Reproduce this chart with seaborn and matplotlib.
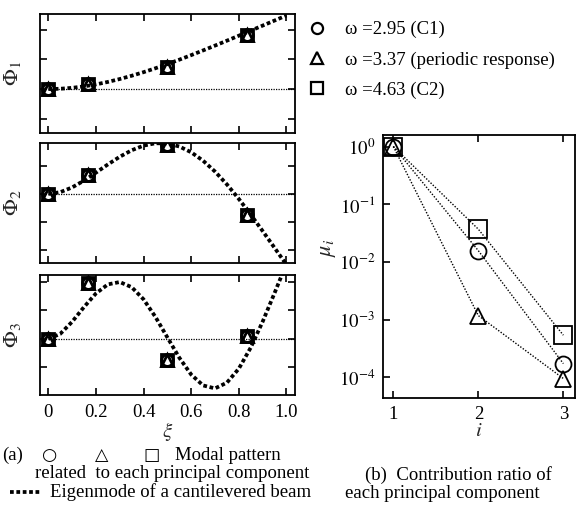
import numpy as np
import pandas as pd
import matplotlib
matplotlib.use("Agg")
import matplotlib.pyplot as plt
from matplotlib.lines import Line2D
import seaborn as sns

# ---------------- data ----------------
xi_curve = [0.00, 0.05, 0.10, 0.15, 0.20, 0.25, 0.30, 0.35, 0.40, 0.45, 0.50,
            0.55, 0.60, 0.65, 0.70, 0.75, 0.80, 0.85, 0.90, 0.95, 1.00]
mode1_curve = [0.000, 0.011, 0.042, 0.091, 0.158, 0.241, 0.339, 0.449, 0.570, 0.702, 0.842,
               0.990, 1.144, 1.303, 1.465, 1.631, 1.799, 1.969, 2.139, 2.309, 2.480]
mode2_curve = [0.000, 0.064, 0.235, 0.479, 0.765, 1.060, 1.336, 1.569, 1.736, 1.821, 1.813,
               1.705, 1.497, 1.194, 0.805, 0.343, -0.178, -0.742, -1.331, -1.933, -2.540]
mode3_curve = [0.000, 0.177, 0.602, 1.121, 1.596, 1.913, 1.996, 1.816, 1.388, 0.770, 0.052,
               -0.658, -1.251, -1.632, -1.736, -1.535, -1.044, -0.306, 0.604, 1.607, 2.640]

xi_pts = [0.0, 0.167, 0.5, 0.833]
phi1_pts = [0.0, 0.17, 0.76, 1.83]
phi2_pts = [0.0, 0.67, 1.77, -0.74]
phi3_pts = [0.0, 1.96, -0.73, 0.09]

i_vals = [1, 2, 3]
mu_c1 = [1.0, 0.0157, 1.74e-4]
mu_periodic = [1.0, 0.00118, 9.6e-5]
mu_c2 = [1.0, 0.037, 5.4e-4]

series_labels = ["\u03c9 =2.95 (C1)", "\u03c9 =3.37 (periodic response)", "\u03c9 =4.63 (C2)"]
series_markers = ["o", "^", "s"]
xi_ticks = [0.0, 0.2, 0.4, 0.6, 0.8, 1.0]
xi_ticklabels = ["0", "0.2", "0.4", "0.6", "0.8", "1.0"]
phi_labels = [r"$\Phi_1$", r"$\Phi_2$", r"$\Phi_3$"]

# ---------------- style ----------------
sns.set_theme(style="ticks")
SERIF = ["Liberation Serif", "DejaVu Serif"]
plt.rcParams["font.family"] = SERIF
plt.rcParams["mathtext.fontset"] = "stix"
plt.rcParams["axes.linewidth"] = 1.3
plt.rcParams["axes.edgecolor"] = "black"
plt.rcParams["text.color"] = "black"
plt.rcParams["xtick.color"] = "black"
plt.rcParams["ytick.color"] = "black"

W, H = 586, 505
fig = plt.figure(figsize=(W / 100, H / 100), dpi=100)


def fx(px):
    return px / W


def fy(py):
    return 1 - py / H


def box(x0, y0, x1, y1):
    return [fx(x0), fy(y1), fx(x1) - fx(x0), fy(y0) - fy(y1)]


left_boxes = [box(40, 14, 295, 133), box(40, 143, 295, 263), box(40, 274.5, 295, 394.5)]
ylims = [(-1.48, 2.53), (-2.48, 1.83), (-1.95, 2.26)]
yticks = [[-1, 0, 1, 2], [-2, -1, 0, 1], [-1, 0, 1, 2]]
curves = [mode1_curve, mode2_curve, mode3_curve]
pts = [phi1_pts, phi2_pts, phi3_pts]
XLIM = (-0.035, 1.036)

for k in range(3):
    ax = fig.add_axes(left_boxes[k])
    ax.axhline(0, xmin=(0 - XLIM[0]) / (XLIM[1] - XLIM[0]), color="black",
               lw=0.9, ls=(0, (1, 1)), zorder=1)
    sns.lineplot(x=xi_curve, y=curves[k], ax=ax, color="black", linewidth=2.7,
                 linestyle=(0, (1, 0.7)), dash_capstyle="butt", zorder=2)
    for m in series_markers:
        sns.lineplot(x=xi_pts, y=pts[k], ax=ax, linestyle="", marker=m,
                     markersize=8.5, markerfacecolor="none", markeredgecolor="black",
                     markeredgewidth=2.0, zorder=3)
    ax.set_xlim(*XLIM)
    ax.set_ylim(*ylims[k])
    ax.set_xticks(xi_ticks)
    ax.set_yticks(yticks[k])
    ax.set_yticklabels([])
    if k == 2:
        ax.set_xticklabels(xi_ticklabels)
        ax.set_xlabel(r"$\xi$", fontsize=15, labelpad=-1)
    else:
        ax.set_xticklabels([])
    ax.tick_params(direction="in", length=5, width=1.2, top=True, right=True,
                   labelsize=13.5, pad=7)
    ax.set_ylabel(phi_labels[k], fontsize=16)
    ax.yaxis.set_label_coords(-0.065, 0.5)

# ---------------- right panel ----------------
axr = fig.add_axes(box(383.3, 135, 575, 397.7))
for vals, m, ms in zip([mu_c1, mu_periodic, mu_c2], series_markers, [11.5, 11.5, 12.5]):
    sns.lineplot(x=i_vals, y=vals, ax=axr, color="black", linestyle=(0, (1, 1.2)),
                 linewidth=1.0, marker=m, markersize=ms, markerfacecolor="none",
                 markeredgecolor="black", markeredgewidth=1.3)
axr.set_yscale("log")
axr.set_xlim(0.882, 3.137)
axr.set_ylim(10 ** -4.35, 10 ** 0.2)
axr.set_xticks(i_vals)
axr.set_xticklabels([str(v) for v in i_vals])
axr.set_yticks([1, 1e-1, 1e-2, 1e-3, 1e-4])
axr.set_yticklabels([r"$10^{0}$", r"$10^{-1}$", r"$10^{-2}$", r"$10^{-3}$", r"$10^{-4}$"])
axr.minorticks_off()
axr.tick_params(direction="in", length=5, width=1.2, top=True, right=False,
                labelsize=13.5, pad=6)
axr.set_xlabel(r"$i$", fontsize=15, labelpad=-1)
axr.set_ylabel(r"$\mu_i$", fontsize=16)
axr.yaxis.set_label_coords(-0.235, 0.57)

# ---------------- legend ----------------
handles = [Line2D([], [], linestyle="", marker=m, markersize=8, markerfacecolor="none",
                  markeredgecolor="black", markeredgewidth=1.6) for m in series_markers]
fig.legend(handles, series_labels, loc="upper left", bbox_to_anchor=(fx(307.6), fy(21)),
           frameon=False, fontsize=13.5, handlelength=1.0, handletextpad=1.0,
           labelspacing=0.69, borderpad=0, borderaxespad=0)

# ---------------- captions ----------------
CS = 13.5
fig.text(fx(2), fy(460), "(a)", fontsize=CS, va="baseline", ha="left")
for cx, sym in zip([50, 102, 152], ["\u25cb", "\u25b3", "\u25a1"]):
    fig.text(fx(cx), fy(460), sym, fontsize=12.5, va="baseline", ha="center",
             family=["DejaVu Sans"])
fig.text(fx(175), fy(460), "Modal pattern", fontsize=CS, va="baseline", ha="left")
fig.text(fx(35), fy(478), "related  to each principal component", fontsize=CS,
         va="baseline", ha="left")
fig.add_artist(Line2D([fx(10), fx(40)], [fy(492), fy(492)], transform=fig.transFigure,
                      color="black", linewidth=2.7, linestyle=(0, (1, 0.7)),
                      dash_capstyle="butt"))
fig.text(fx(50), fy(497), "Eigenmode of a cantilevered beam", fontsize=CS,
         va="baseline", ha="left")
fig.text(fx(365), fy(480), "(b)  Contribution ratio of", fontsize=CS,
         va="baseline", ha="left")
fig.text(fx(345), fy(498), "each principal component", fontsize=CS,
         va="baseline", ha="left")

fig.savefig("out.png", dpi=100)
